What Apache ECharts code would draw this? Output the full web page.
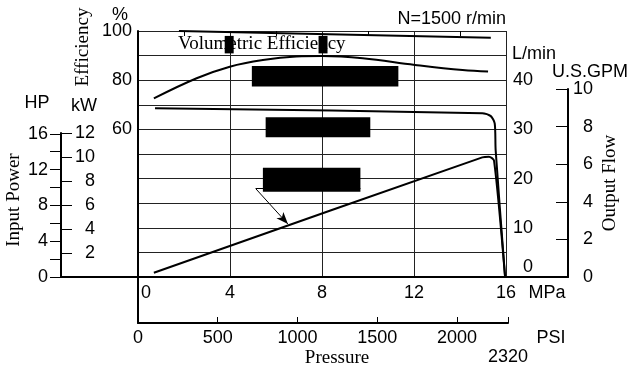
<!DOCTYPE html>
<html>
<head>
<meta charset="utf-8">
<script src="https://cdn.jsdelivr.net/npm/echarts@6/dist/echarts.min.js"></script>
<style>html,body{margin:0;padding:0;background:#fff}#c{width:634px;height:369px}</style>
</head>
<body>
<div id="c"></div>
<script>
// ---- data ----
const mpaTicks = [0, 4, 8, 12, 16];
const mpaMinorTicks = [2, 6, 10, 14];
const psiLabels = [0, 500, 1000, 1500, 2000, 2320];
const psiTickMarks = [500, 1000, 1500, 2000, 2320];
const effLabels = [60, 80, 100];
const lpmLabels = [0, 10, 20, 30, 40];
const gpmLabels = [0, 2, 4, 6, 8, 10];
const gpmTickMarks = [2, 4, 6, 8, 10];
const hpLabels = [0, 4, 8, 12, 16];
const hpTickMarks = [0, 2, 4, 6, 8, 10, 12, 14, 16];
const kwLabels = [2, 4, 6, 8, 10, 12];

// [pressure MPa, %]
const volumetricEff = [[1.78, 100], [15.34, 97.3]];
const overallEff = [[0.69, 72.6], [2.55, 80.8], [3.99, 85.5], [5.43, 88.2], [6.88, 89.6],
  [8.01, 89.8], [9.77, 88.9], [12.04, 86.2], [14.11, 84.1], [15.22, 83.5]];
// [pressure MPa, L/min]
const outputFlow = [[0.74, 34.3], [14.97, 33.3], [15.34, 32.7], [15.51, 31.2], [15.55, 25.8], [15.96, 0]];
// [pressure MPa, kW]
const inputPower = [[0.69, 0.35], [14.97, 9.73], [15.26, 9.78], [15.48, 9.46], [15.96, 0]];

// annotation arrow (MPa, %)
const arrowFrom = [5.12, 35.9], arrowTo = [6.52, 21.5], leaderEnd = [9.67, 35.9];
// redaction boxes (MPa, %) : [x0, y0, x1, y1]
const redactions = [[4.95, 85.8, 11.32, 77.4], [5.55, 64.9, 10.1, 56.8], [5.43, 44.4, 9.67, 34.7],
  [3.77, 98.0, 4.16, 90.9], [7.85, 98.0, 8.24, 90.9]];

const SANS = 'Liberation Sans, Arial, sans-serif';
const SERIF = 'Liberation Serif, Times New Roman, serif';
const FS = 18;
const FSS = 19;
const lab = (extra) => Object.assign({color: '#000', fontFamily: SANS, fontSize: FS}, extra);
const blackLine = {lineStyle: {color: '#000', width: 2}};
const axLine = {show: true, onZero: false, lineStyle: {color: '#000', width: 2}};
const noLine = {show: false, onZero: false};

const chart = echarts.init(document.getElementById('c'), null, {renderer: 'canvas'});
const option = {
  animation: false,
  backgroundColor: '#fff',
  grid: [
    {left: 138, right: 128, top: 31, bottom: 92},   // main
    {left: 61, right: 66, top: 89, bottom: 92},     // GPM
    {left: 61, right: 500, top: 133, bottom: 92},   // HP / kW
    {left: 138, right: 126, top: 277, bottom: 46}   // PSI
  ],
  xAxis: [
    {gridIndex: 0, type: 'value', min: 0, max: 16, interval: 4,
      axisLine: axLine,
      axisTick: {show: false},
      splitLine: {show: true, lineStyle: {color: '#222', width: 1}},
      axisLabel: lab({margin: 7,
        customValues: mpaTicks,
        formatter: v => v === 0 ? '{z|0}' : String(v),
        rich: {z: {padding: [0, 0, 0, 16], fontSize: FS, fontFamily: SANS, color: '#000'}}})},
    {gridIndex: 0, type: 'value', min: 0, max: 16,
      axisLine: noLine, splitLine: {show: false}, axisLabel: {show: false},
      axisTick: {show: true, inside: true, length: 5, customValues: mpaMinorTicks, lineStyle: {color: '#000', width: 1}}},
    {gridIndex: 1, type: 'value', min: 0, max: 1,
      axisLine: axLine,
      axisTick: {show: false}, axisLabel: {show: false}, splitLine: {show: false}},
    {gridIndex: 2, type: 'value', show: false, axisLine: noLine},
    {gridIndex: 3, type: 'value', min: 0, max: 2320,
      axisLine: axLine,
      axisTick: {show: true, inside: true, length: 6, customValues: psiTickMarks, lineStyle: {color: '#000', width: 1}},
      splitLine: {show: false},
      axisLabel: lab({margin: 6, customValues: psiLabels,
        formatter: v => v === 2320 ? '{z|2320}' : String(v),
        rich: {z: {padding: [19, 0, 0, 0], fontSize: FS, fontFamily: SANS, color: '#000'}}})}
  ],
  yAxis: [
    {gridIndex: 0, type: 'value', min: 0, max: 100, interval: 10, position: 'left',
      axisLine: axLine,
      axisTick: {show: false},
      splitLine: {show: true, lineStyle: {color: '#222', width: 1}},
      axisLabel: lab({margin: 6, customValues: effLabels})},
    {gridIndex: 0, type: 'value', min: 0, max: 50, position: 'right',
      axisLine: noLine, axisTick: {show: false}, splitLine: {show: false},
      axisLabel: lab({margin: 27, align: 'right', customValues: lpmLabels,
        formatter: v => v === 0 ? '{z|0}' : String(v),
        rich: {z: {padding: [0, 0, 20, 0], fontSize: FS, fontFamily: SANS, color: '#000'}}})},
    {gridIndex: 0, type: 'value', min: 0, max: 20, show: false, axisLine: noLine},
    {gridIndex: 1, type: 'value', min: 0, max: 10, position: 'right',
      axisLine: axLine,
      axisTick: {show: true, inside: true, length: 12, customValues: gpmTickMarks, lineStyle: {color: '#000', width: 1}},
      splitLine: {show: false},
      axisLabel: lab({margin: 25, align: 'right', customValues: gpmLabels})},
    {gridIndex: 2, type: 'value', min: 0, max: 12, position: 'left',
      axisLine: noLine,
      axisTick: {show: true, inside: true, length: 11, customValues: kwLabels, lineStyle: {color: '#000', width: 1}},
      splitLine: {show: false},
      axisLabel: lab({inside: true, margin: 34, align: 'right', customValues: kwLabels})},
    {gridIndex: 2, type: 'value', min: 0, max: 12 / 0.7457, position: 'left',
      axisLine: axLine,
      axisTick: {show: true, length: 11, customValues: hpTickMarks, lineStyle: {color: '#000', width: 1}},
      splitLine: {show: false},
      axisLabel: lab({margin: 13, customValues: hpLabels})},
    {gridIndex: 3, type: 'value', min: 0, max: 1, position: 'left',
      axisLine: axLine,
      axisTick: {show: false}, axisLabel: {show: false}, splitLine: {show: false}}
  ],
  series: [
    {name: 'Volumetric Efficiency', type: 'line', xAxisIndex: 0, yAxisIndex: 0, data: volumetricEff,
      showSymbol: false, symbol: 'none', ...blackLine, z: 3},
    {name: 'Overall Efficiency', type: 'line', xAxisIndex: 0, yAxisIndex: 0, data: overallEff,
      smooth: 0.4, showSymbol: false, symbol: 'none', ...blackLine, z: 3,
      markLine: {silent: true, animation: false, label: {show: false},
        lineStyle: {color: '#000', width: 1, type: 'solid'},
        emphasis: {disabled: true},
        data: [
          [{coord: arrowFrom, symbol: 'none'}, {coord: arrowTo, symbol: 'arrow', symbolSize: [7, 12]}],
          [{coord: arrowFrom, symbol: 'none'}, {coord: leaderEnd, symbol: 'none'}]
        ]}},
    {name: 'Output Flow', type: 'line', xAxisIndex: 0, yAxisIndex: 1, data: outputFlow,
      smooth: 0.25, showSymbol: false, symbol: 'none', ...blackLine, z: 3},
    {name: 'Input Power', type: 'line', xAxisIndex: 0, yAxisIndex: 2, data: inputPower,
      smooth: 0.25, showSymbol: false, symbol: 'none', ...blackLine, z: 3},
    {name: 'redactions', type: 'line', xAxisIndex: 0, yAxisIndex: 0, data: [], z: 6,
      markArea: {silent: true, itemStyle: {color: '#000', opacity: 1},
        data: redactions.map(r => [{coord: [r[0], r[1]]}, {coord: [r[2], r[3]]}])}}
  ],
  graphic: [
    {type: 'text', x: 120, y: 15, style: {text: '%', font: FS + 'px ' + SANS, fill: '#000', align: 'center', verticalAlign: 'middle'}},
    {type: 'text', x: 83, y: 47, rotation: Math.PI / 2, style: {text: 'Efficiency', font: FSS + 'px ' + SERIF, fill: '#000', align: 'center', verticalAlign: 'middle'}},
    {type: 'text', x: 37, y: 103, style: {text: 'HP', font: FS + 'px ' + SANS, fill: '#000', align: 'center', verticalAlign: 'middle'}},
    {type: 'text', x: 84, y: 106, style: {text: 'kW', font: FS + 'px ' + SANS, fill: '#000', align: 'center', verticalAlign: 'middle'}},
    {type: 'text', x: 14, y: 200, rotation: Math.PI / 2, style: {text: 'Input Power', font: FSS + 'px ' + SERIF, fill: '#000', align: 'center', verticalAlign: 'middle'}},
    {type: 'text', x: 506, y: 19, style: {text: 'N=1500 r/min', font: FS + 'px ' + SANS, fill: '#000', align: 'right', verticalAlign: 'middle'}},
    {type: 'text', x: 178, y: 44, style: {text: 'Volumetric Efficiency', font: FSS + 'px ' + SERIF, fill: '#000', align: 'left', verticalAlign: 'middle'}},
    {type: 'text', x: 512, y: 54, style: {text: 'L/min', font: FS + 'px ' + SANS, fill: '#000', align: 'left', verticalAlign: 'middle'}},
    {type: 'text', x: 552, y: 72, style: {text: 'U.S.GPM', font: FS + 'px ' + SANS, fill: '#000', align: 'left', verticalAlign: 'middle'}},
    {type: 'text', x: 610, y: 183, rotation: Math.PI / 2, style: {text: 'Output Flow', font: FSS + 'px ' + SERIF, fill: '#000', align: 'center', verticalAlign: 'middle'}},
    {type: 'text', x: 547, y: 293, style: {text: 'MPa', font: FS + 'px ' + SANS, fill: '#000', align: 'center', verticalAlign: 'middle'}},
    {type: 'text', x: 551, y: 338, style: {text: 'PSI', font: FS + 'px ' + SANS, fill: '#000', align: 'center', verticalAlign: 'middle'}},
    {type: 'text', x: 337, y: 358, style: {text: 'Pressure', font: FSS + 'px ' + SERIF, fill: '#000', align: 'center', verticalAlign: 'middle'}}
  ]
};
chart.setOption(option);
</script>
</body>
</html>
